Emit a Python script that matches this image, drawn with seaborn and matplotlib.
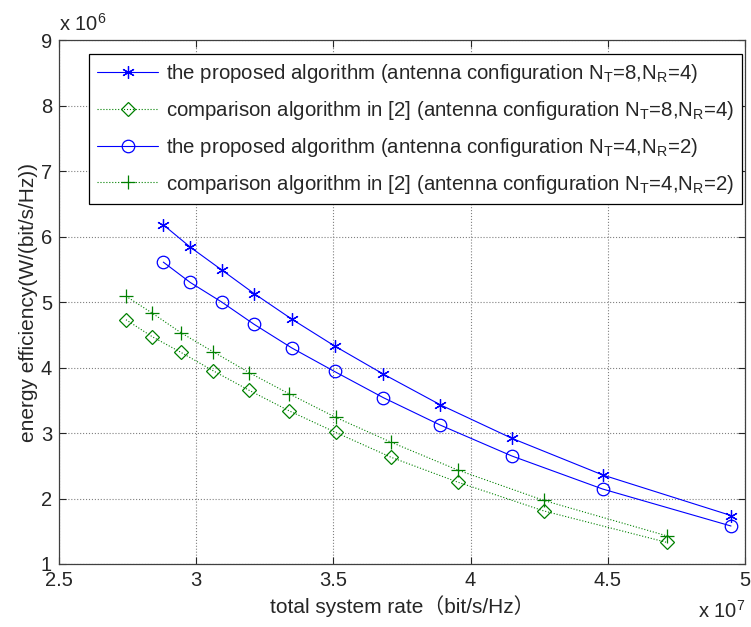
import numpy as np
import pandas as pd
import seaborn as sns
import matplotlib
matplotlib.use("Agg")
import matplotlib.pyplot as plt
from matplotlib.ticker import FixedLocator, FuncFormatter

# total system rate (x 10^7 bit/s/Hz) and energy efficiency (x 10^6)
rate_proposed = [2.880, 2.978, 3.093, 3.211, 3.348, 3.504, 3.682, 3.890, 4.150, 4.481, 4.949]
ee_prop_84 = [6.18, 5.84, 5.49, 5.13, 4.74, 4.33, 3.90, 3.43, 2.92, 2.36, 1.74]
ee_prop_42 = [5.61, 5.30, 5.00, 4.66, 4.30, 3.94, 3.54, 3.12, 2.65, 2.145, 1.58]

rate_compare = [2.744, 2.840, 2.945, 3.062, 3.194, 3.338, 3.508, 3.710, 3.953, 4.267, 4.715]
ee_comp_84 = [4.73, 4.47, 4.23, 3.95, 3.65, 3.34, 3.01, 2.63, 2.25, 1.81, 1.33]
ee_comp_42 = [5.09, 4.83, 4.53, 4.24, 3.92, 3.60, 3.24, 2.86, 2.435, 1.97, 1.43]

labels = [
    r'the proposed algorithm (antenna configuration N$_\mathrm{T}$=8,N$_\mathrm{R}$=4)',
    r'comparison algorithm in [2] (antenna configuration N$_\mathrm{T}$=8,N$_\mathrm{R}$=4)',
    r'the proposed algorithm (antenna configuration N$_\mathrm{T}$=4,N$_\mathrm{R}$=2)',
    r'comparison algorithm in [2] (antenna configuration N$_\mathrm{T}$=4,N$_\mathrm{R}$=2)',
]

sns.set_style("white")
plt.rcParams['font.family'] = ['Liberation Sans', 'Noto Sans CJK SC', 'DejaVu Sans']
plt.rcParams['mathtext.fontset'] = 'custom'
plt.rcParams['mathtext.rm'] = 'Liberation Sans'
plt.rcParams['mathtext.it'] = 'Liberation Sans:italic'

fig = plt.figure(figsize=(7.51, 6.27), dpi=100)
ax = fig.add_axes([0.0786, 0.1005, 0.9134, 0.8355])

blue = (0, 0, 1)
green = (0, 0.5, 0)

series = [
    (rate_proposed, ee_prop_84, blue, '-', (6, 2, 0), 9),
    (rate_compare, ee_comp_84, green, ':', 'D', 7.5),
    (rate_proposed, ee_prop_42, blue, '-', 'o', 9),
    (rate_compare, ee_comp_42, green, ':', '+', 10),
]

for (xs, ys, col, ls, mk, ms), lab in zip(series, labels):
    df = pd.DataFrame({'x': xs, 'y': ys})
    sns.lineplot(data=df, x='x', y='y', ax=ax, color=col, linestyle=ls,
                 linewidth=0.8, marker=mk, markersize=ms, markerfacecolor='none',
                 markeredgecolor=col, markeredgewidth=0.9, sort=False,
                 estimator=None, label=lab)

ax.set_xlim(2.5, 5)
ax.set_ylim(1, 9)
ax.xaxis.set_major_locator(FixedLocator([2.5, 3, 3.5, 4, 4.5, 5]))
ax.yaxis.set_major_locator(FixedLocator(range(1, 10)))
ax.xaxis.set_major_formatter(FuncFormatter(lambda v, p: '%g' % v))
ax.grid(True, linestyle=':', color='#808080', linewidth=0.8)
ax.tick_params(direction='in', length=5, width=0.8, labelsize=14.5,
               top=True, right=True, bottom=True, left=True, pad=5)
for s in ax.spines.values():
    s.set_color('#404040')
    s.set_linewidth(0.9)

ax.set_xlabel('total system rate\uff08bit/s/Hz\uff09', fontsize=15, labelpad=4)
ax.set_ylabel('energy efficiency(W/(bit/s/Hz))', fontsize=15, labelpad=2)

ax.text(0.0, 1.01, r'x 10$^{6}$', transform=ax.transAxes, fontsize=14.5,
        ha='left', va='bottom')
ax.text(1.0, -0.068, r'x 10$^{7}$', transform=ax.transAxes, fontsize=14.5,
        ha='right', va='top')

leg = ax.legend(loc='upper right', bbox_to_anchor=(0.9956, 0.974), fontsize=14.7,
                frameon=True, fancybox=False, edgecolor='black', framealpha=1,
                handlelength=3.0, handletextpad=0.35, labelspacing=0.68,
                borderpad=0.4, borderaxespad=0, numpoints=1)
leg.get_frame().set_linewidth(0.9)

fig.savefig('out.png', dpi=100)
